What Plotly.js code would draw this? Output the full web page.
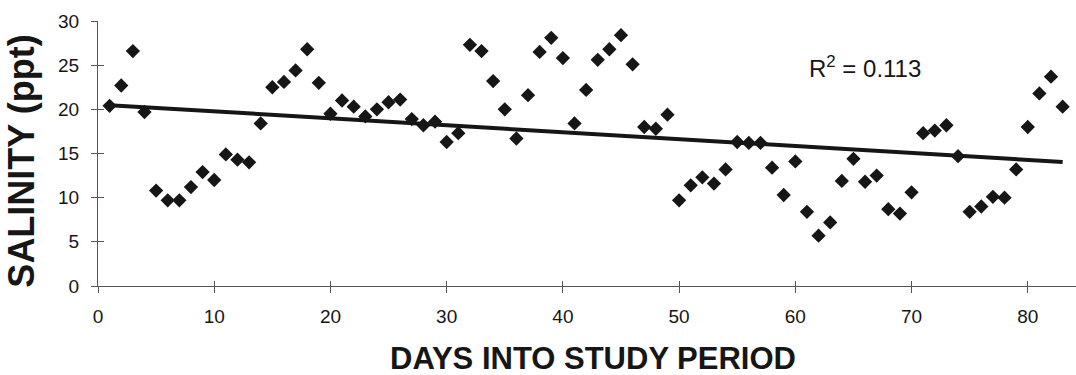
<!DOCTYPE html>
<html>
<head>
<meta charset="utf-8">
<script src="https://cdn.plot.ly/plotly-3.0.1.min.js"></script>
<style>html,body{margin:0;padding:0;background:#fff;}#chart{width:1076px;height:375px;}</style>
</head>
<body>
<div id="chart"></div>
<script>
// Day into study period
const days = [1,2,3,4,5,6,7,8,9,10,11,12,13,14,15,16,17,18,19,20,21,22,23,24,25,26,27,28,29,30,31,32,33,34,35,36,37,38,39,40,41,42,43,44,45,46,47,48,49,50,51,52,53,54,55,56,57,58,59,60,61,62,63,64,65,66,67,68,69,70,71,72,73,74,75,76,77,78,79,80,81,82,83];
// Salinity (ppt)
const salinity = [20.4,22.7,26.6,19.7,10.8,9.7,9.7,11.2,12.9,12.0,14.9,14.3,14.0,18.4,22.5,23.1,24.4,26.8,23.0,19.5,21.0,20.3,19.2,20.0,20.8,21.1,18.9,18.2,18.6,16.3,17.3,27.3,26.6,23.2,20.0,16.7,21.6,26.5,28.1,25.8,18.4,22.2,25.6,26.8,28.4,25.1,18.0,17.8,19.4,9.7,11.4,12.3,11.6,13.2,16.3,16.2,16.2,13.4,10.3,14.1,8.4,5.7,7.2,11.9,14.4,11.8,12.5,8.7,8.2,10.6,17.3,17.6,18.2,14.7,8.4,9.0,10.1,10.0,13.2,18.0,21.8,23.7,20.3];
const xTicks = [0,10,20,30,40,50,60,70,80];
const yTicks = [0,5,10,15,20,25,30];
const r2Label = "R<sup>2</sup> = 0.113";
const xTitle = "DAYS INTO STUDY PERIOD";
const yTitle = "SALINITY (ppt)";

// least-squares trend line from the data
const n = days.length;
const mx = days.reduce((a,b)=>a+b,0)/n;
const my = salinity.reduce((a,b)=>a+b,0)/n;
let sxy=0, sxx=0;
for (let i=0;i<n;i++){ sxy += (days[i]-mx)*(salinity[i]-my); sxx += (days[i]-mx)**2; }
const slope = sxy/sxx, icpt = my - slope*mx;
const trendX = [days[0], days[n-1]];
const trendY = trendX.map(v => icpt + slope*v);

const FONT = "Arial, 'Liberation Sans', sans-serif";
const ink = "#161616";

const traces = [
  {x: trendX, y: trendY, type: "scatter", mode: "lines",
   line: {color: ink, width: 4}, hoverinfo: "skip", showlegend: false},
  {x: days, y: salinity, type: "scatter", mode: "markers",
   marker: {symbol: "diamond", size: 11, color: ink, line: {width: 0}},
   showlegend: false},
  {x: [], y: [], xaxis: "x2", yaxis: "y2", type: "scatter", mode: "markers", showlegend: false, hoverinfo: "skip"}
];

const xr = [0, 84.15], yr = [0, 30];
const axisCommon = {showgrid: false, zeroline: false, showline: true, linecolor: "#555", linewidth: 1,
  tickcolor: "#555", tickwidth: 1, fixedrange: true};

const layout = {
  width: 1076, height: 375,
  margin: {l: 98, r: 0, t: 21, b: 89, pad: 0},
  paper_bgcolor: "#fff", plot_bgcolor: "#fff",
  font: {family: FONT, color: ink},
  xaxis: Object.assign({}, axisCommon, {range: xr, tickmode: "array", tickvals: xTicks, ticktext: xTicks.map(String),
    ticks: "outside", ticklen: 6, ticklabelstandoff: 7, tickfont: {size: 19, family: FONT, color: ink}}),
  yaxis: Object.assign({}, axisCommon, {range: yr, tickmode: "array", tickvals: yTicks, ticktext: yTicks.map(String),
    ticks: "outside", ticklen: 6, ticklabelstandoff: 8, tickfont: {size: 19, family: FONT, color: ink}}),
  xaxis2: Object.assign({}, axisCommon, {range: xr, overlaying: "x", anchor: "y2", tickmode: "array", tickvals: xTicks,
    ticks: "inside", ticklen: 5, showticklabels: false, showline: false}),
  yaxis2: Object.assign({}, axisCommon, {range: yr, overlaying: "y", anchor: "x2", tickmode: "array", tickvals: yTicks,
    ticks: "inside", ticklen: 6, showticklabels: false, showline: false}),
  annotations: [
    {text: r2Label, xref: "x", yref: "y", x: 66.0, y: 24.8, xanchor: "center", yanchor: "middle",
     showarrow: false, font: {size: 24, family: FONT, color: ink}},
    {text: "<b>" + xTitle + "</b>", xref: "paper", yref: "paper", x: 0.506, y: -0.275,
     xanchor: "center", yanchor: "middle", showarrow: false, font: {size: 31, family: FONT, color: ink}},
    {text: "<b>" + yTitle + "</b>", xref: "paper", yref: "paper", x: -0.078, y: 0.472, textangle: -90,
     xanchor: "center", yanchor: "middle", showarrow: false, font: {size: 36, family: FONT, color: ink}}
  ]
};

Plotly.newPlot("chart", traces, layout, {displayModeBar: false, staticPlot: true});
</script>
</body>
</html>
